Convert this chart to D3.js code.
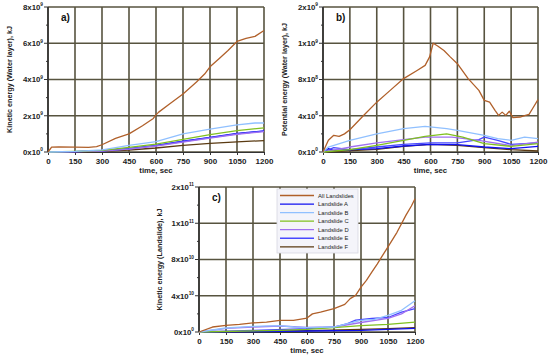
<!DOCTYPE html>
<html>
<head>
<meta charset="utf-8">
<title>landslide energy</title>
<script src="https://cdnjs.cloudflare.com/ajax/libs/d3/7.8.5/d3.min.js"></script>
<style>
  html, body { margin: 0; padding: 0; background: #fff; }
  svg text { font-family: Arial, "Liberation Sans", sans-serif; }
</style>
</head>
<body>
<script>
// series names and colours (legend order)
const seriesNames = ["All Landslides", "Landslide A", "Landslide B", "Landslide C", "Landslide D", "Landslide E", "Landslide F"];
const seriesColors = ["#b0602a", "#1010f0", "#90c0ff", "#80c020", "#a070f0", "#4848ff", "#5a3a12"];
const timeTicks = [0, 150, 300, 450, 600, 750, 900, 1050, 1200];

// a) kinetic energy, water layer, values in 1e9 kJ  [time, value]
const kwAll = [[0,0],[20,0.27],[60,0.28],[150,0.27],[225,0.25],[270,0.3],[300,0.4],[375,0.75],[450,1.0],[525,1.45],[585,1.85],[600,2.05],[615,2.2],[675,2.65],[750,3.2],[825,3.86],[870,4.3],[900,4.7],[950,5.15],[1000,5.6],[1050,6.1],[1100,6.27],[1150,6.38],[1200,6.7]];
const kwA = [[0,0],[150,0.02],[300,0.06],[450,0.19],[600,0.37],[750,0.6],[900,0.81],[1050,1.02],[1200,1.16]];
const kwB = [[0,0],[150,0.04],[300,0.12],[450,0.37],[600,0.57],[750,1.0],[900,1.26],[1050,1.5],[1150,1.6],[1200,1.6]];
const kwC = [[0,0],[150,0.03],[300,0.09],[450,0.26],[600,0.44],[750,0.7],[900,0.96],[1050,1.18],[1200,1.33]];
const kwD = [[0,0],[150,0.02],[300,0.05],[450,0.16],[600,0.33],[750,0.55],[900,0.76],[1050,0.98],[1200,1.12]];
const kwE = [[0,0],[150,0.02],[300,0.06],[450,0.18],[600,0.35],[750,0.58],[900,0.79],[1050,1.0],[1200,1.15]];
const kwF = [[0,0],[150,0.01],[300,0.03],[450,0.11],[600,0.22],[750,0.37],[900,0.48],[1050,0.56],[1200,0.63]];

// b) potential energy, water layer, values in 1e8 kJ
const pwAll = [[0,0],[30,1.29],[60,1.84],[90,1.73],[120,2.0],[150,2.46],[225,4.0],[300,5.5],[375,6.8],[450,8.1],[525,9.0],[570,9.56],[595,10.5],[615,12.0],[640,11.7],[675,11.2],[710,10.5],[750,9.74],[810,8.1],[870,6.8],[900,5.7],[930,5.5],[960,4.6],[980,4.04],[1000,4.4],[1020,4.04],[1040,4.5],[1060,3.8],[1100,3.86],[1130,4.04],[1150,4.15],[1170,4.8],[1200,5.77]];
const pwA = [[0,0],[30,0.37],[60,0.18],[300,0.37],[450,0.66],[600,0.85],[750,0.81],[900,0.55],[1050,0.37],[1200,0.62]];
const pwB = [[0,0],[30,0.55],[150,1.29],[300,2.0],[450,2.57],[570,2.83],[690,2.57],[750,2.39],[900,1.84],[975,1.47],[1050,1.29],[1125,1.65],[1200,1.47]];
const pwC = [[0,0],[150,0.26],[300,0.74],[450,1.29],[570,1.73],[690,2.0],[780,1.65],[900,0.92],[1050,0.62],[1200,0.92]];
const pwD = [[0,0],[150,0.55],[300,1.0],[450,1.36],[570,1.65],[720,1.65],[870,1.29],[1050,0.7],[1200,1.1]];
const pwE = [[0,0],[60,0.48],[150,0.26],[300,0.55],[450,0.85],[600,1.0],[750,1.0],[870,1.36],[900,1.65],[975,1.29],[1050,0.85],[1200,1.0]];
const pwF = [[0,0],[300,0.29],[450,0.62],[600,0.85],[750,0.74],[900,0.48],[1050,0.26],[1200,0.11]];

// c) kinetic energy, landslides, values in 1e10 kJ
const klAll = [[0,0],[75,0.55],[150,0.74],[225,0.85],[300,1.0],[375,1.1],[450,1.29],[525,1.29],[600,1.54],[630,2.0],[675,2.2],[750,2.57],[810,3.05],[840,3.68],[870,4.04],[900,4.96],[930,5.7],[960,6.6],[990,7.5],[1020,8.45],[1050,9.4],[1100,11.0],[1150,12.9],[1180,13.9],[1200,14.7]];
const klA = [[0,0],[300,0.05],[600,0.11],[900,0.18],[1050,0.3],[1200,0.4]];
const klB = [[0,0],[150,0.44],[300,0.62],[450,0.7],[525,0.55],[600,0.48],[750,0.55],[825,0.92],[900,1.29],[975,1.4],[1050,1.84],[1125,2.39],[1200,3.45]];
const klC = [[0,0],[450,0.18],[600,0.29],[750,0.48],[900,0.7],[1050,0.85],[1200,1.1]];
const klD = [[0,0],[150,0.4],[300,0.55],[450,0.66],[525,0.58],[600,0.5],[750,0.55],[825,0.8],[900,1.05],[1050,1.5],[1125,2.0],[1200,2.9]];
const klE = [[0,0],[300,0.18],[600,0.37],[750,0.55],[825,0.92],[870,1.3],[960,1.5],[1050,1.6],[1125,2.2],[1200,2.58]];
const klF = [[0,0],[300,0.08],[600,0.15],[900,0.28],[1050,0.38],[1200,0.48]];

// y tick labels (mantissa^exponent)
const yLabelsA = ["0x10^0", "2x10^9", "4x10^9", "6x10^9", "8x10^9"];
const yLabelsB = ["0x10^0", "4x10^8", "8x10^8", "1x10^9", "2x10^9"];
const yLabelsC = ["0x10^0", "4x10^10", "8x10^10", "1x10^11", "2x10^11"];

const W = 550, H = 359;
const svg = d3.select("body").append("svg").attr("width", W).attr("height", H);

const gridColor = "#57533f";

function drawPanel(p) {
  const x = d3.scaleLinear().domain([0, 1200]).range([p.left, p.right]);
  const y = d3.scaleLinear().domain([0, p.max]).range([p.bottom, p.top]);
  const g = svg.append("g");
  const yTicks = d3.range(0, p.max + p.step / 2, p.step);

  // grid
  g.append("g").selectAll("line").data(timeTicks).join("line")
    .attr("x1", d => x(d)).attr("x2", d => x(d))
    .attr("y1", p.top).attr("y2", p.bottom)
    .attr("stroke", gridColor).attr("stroke-width", 1.6);
  g.append("g").selectAll("line").data(yTicks).join("line")
    .attr("x1", p.left).attr("x2", p.right)
    .attr("y1", d => y(d)).attr("y2", d => y(d))
    .attr("stroke", gridColor).attr("stroke-width", 1.6);

  // axes
  const xAxis = g.append("g").attr("transform", `translate(0,${p.bottom})`)
    .call(d3.axisBottom(x).tickValues(timeTicks).tickFormat(d3.format("d")).tickSize(3).tickPadding(3));
  xAxis.select(".domain").attr("stroke", "#333");
  xAxis.selectAll(".tick line").attr("stroke", "#333");
  xAxis.selectAll("text").attr("font-size", 8).attr("font-weight", "bold")
    .attr("fill", "#222").attr("font-family", "Arial, 'Liberation Sans', sans-serif");

  const minor = d3.range(p.step / 2, p.max, p.step);
  g.append("g").selectAll("line").data(minor).join("line")
    .attr("x1", p.left - 2).attr("x2", p.left)
    .attr("y1", d => y(d)).attr("y2", d => y(d))
    .attr("stroke", "#333");
  g.append("g").selectAll("line").data(yTicks).join("line")
    .attr("x1", p.left - 4).attr("x2", p.left)
    .attr("y1", d => y(d)).attr("y2", d => y(d))
    .attr("stroke", "#333");
  g.append("line").attr("x1", p.left).attr("x2", p.left)
    .attr("y1", p.top).attr("y2", p.bottom).attr("stroke", "#333").attr("stroke-width", 1.6);

  const yl = g.append("g").selectAll("text").data(yTicks).join("text")
    .attr("x", p.left - 5).attr("y", d => y(d) + 2.8)
    .attr("text-anchor", "end").attr("font-size", 7.8).attr("font-weight", "bold").attr("fill", "#222");
  yl.each(function(d, i) {
    const parts = p.labels[i].split("^");
    const t = d3.select(this);
    t.append("tspan").text(parts[0]);
    t.append("tspan").attr("dy", -3.4).attr("font-size", 4.8).text(parts[1]);
  });

  // titles
  g.append("text").attr("x", (p.left + p.right) / 2).attr("y", p.bottom + 21)
    .attr("text-anchor", "middle").attr("font-size", 7.8).attr("font-weight", "bold")
    .attr("fill", "#222").text("time, sec");
  g.append("text").attr("transform", `translate(${p.titleX},${(p.top + p.bottom) / 2}) rotate(-90)`)
    .attr("text-anchor", "middle").attr("font-size", 7.2).attr("font-weight", "bold")
    .attr("fill", "#222").text(p.title);
  g.append("text").attr("x", p.left + 13).attr("y", p.top + 14)
    .attr("font-size", 10).attr("font-weight", "bold").attr("fill", "#111").text(p.tag);

  // series
  const line = d3.line().x(d => x(d[0])).y(d => y(d[1]));
  const order = [6, 1, 5, 4, 3, 2, 0];
  order.forEach(i => {
    g.append("path").datum(p.series[i]).attr("fill", "none")
      .attr("stroke", seriesColors[i]).attr("stroke-width", 1.3)
      .attr("stroke-linejoin", "round").attr("d", line);
  });
  return { x, y };
}

drawPanel({ left: 48, right: 264, top: 7, bottom: 152, max: 8, step: 2, labels: yLabelsA,
  title: "Kinetic energy (Water layer), kJ", titleX: 12, tag: "a)",
  series: [kwAll, kwA, kwB, kwC, kwD, kwE, kwF] });
drawPanel({ left: 323, right: 538, top: 7, bottom: 152, max: 16, step: 4, labels: yLabelsB,
  title: "Potential energy (Water layer), kJ", titleX: 287, tag: "b)",
  series: [pwAll, pwA, pwB, pwC, pwD, pwE, pwF] });
drawPanel({ left: 199, right: 415, top: 187, bottom: 332, max: 16, step: 4, labels: yLabelsC,
  title: "Kinetic energy (Landslide), kJ", titleX: 162, tag: "c)",
  series: [klAll, klA, klB, klC, klD, klE, klF] });

// legend in panel c
const leg = svg.append("g");
leg.append("rect").attr("x", 277).attr("y", 189).attr("width", 81).attr("height", 64)
  .attr("fill", "#f4f4fa").attr("stroke", "#d8d8e0").attr("stroke-width", 0.8);
seriesNames.forEach((name, i) => {
  const yy = 195.5 + i * 8.55;
  leg.append("line").attr("x1", 280).attr("x2", 314).attr("y1", yy).attr("y2", yy)
    .attr("stroke", seriesColors[i]).attr("stroke-width", 1.3);
  leg.append("text").attr("x", 318).attr("y", yy + 2).attr("font-size", 5.8)
    .attr("fill", "#222").text(name);
});
</script>
</body>
</html>
